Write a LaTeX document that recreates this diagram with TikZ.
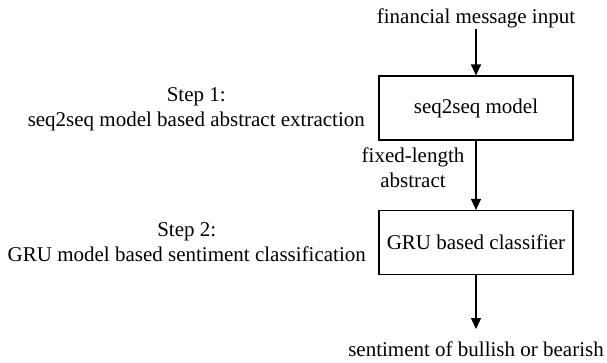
\documentclass[tikz,border=0pt]{standalone}
\usepackage{fontspec}
\setmainfont{Liberation Serif}
\usetikzlibrary{arrows.meta}
\begin{document}
\begin{tikzpicture}[x=1pt,y=-1pt,
  every node/.style={font=\fontsize{21}{24.5}\selectfont, inner sep=0pt},
  procbox/.style={draw, line width=1.2pt, minimum width=194pt, minimum height=64pt},
  flow/.style={line width=1.2pt, -{Triangle[width=10pt,length=11pt]}},
  lbl/.style={align=center}]
\useasboundingbox (0,0) rectangle (607,362);
\node[anchor=base] (in) at (476,23) {financial message input};
\node[procbox] (m1) at (476,108) {seq2seq model};
\node[procbox] (m2) at (476,242.5) {GRU based classifier};
\node[anchor=base] (out) at (476,356) {sentiment of bullish or bearish};
\coordinate (inb) at (476,29);
\coordinate (outt) at (476,329);
\draw[flow] (inb) -- (m1.north);
\draw[flow] (m1.south) -- (m2.north);
\draw[flow] (m2.south) -- (outt);
\node[lbl, anchor=base] (fl) at (413,187) {fixed-length\\abstract};
\node[lbl, anchor=base east] (s1) at (365,126) {Step 1:\\seq2seq model based abstract extraction};
\node[lbl, anchor=base east] (s2) at (366,261) {Step 2:\\GRU model based sentiment classification};
\end{tikzpicture}
\end{document}
